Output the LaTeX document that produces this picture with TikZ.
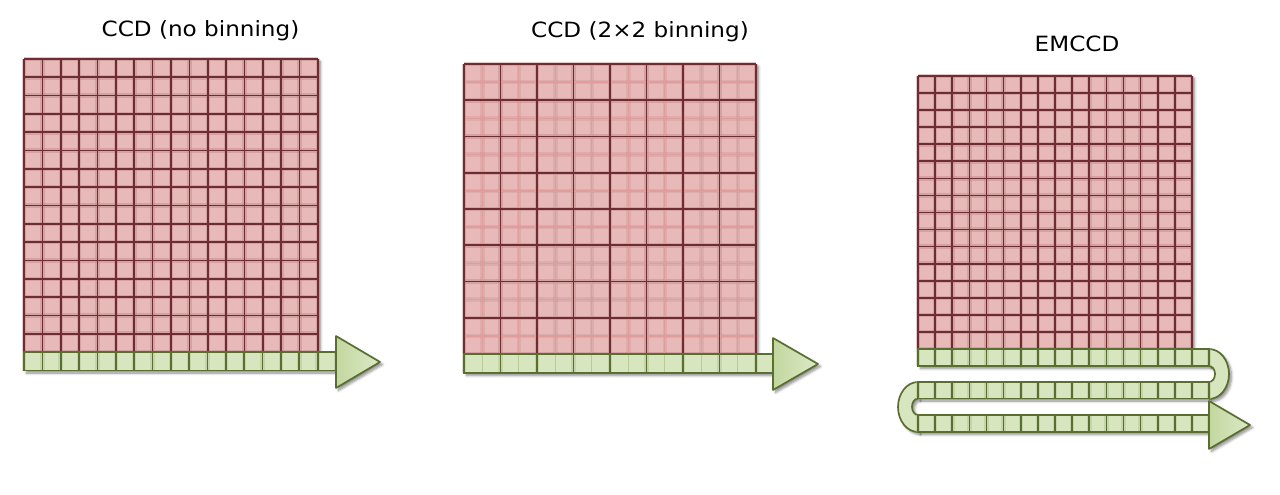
\documentclass[tikz,border=0pt]{standalone}
\usepackage{fontspec}
\setmainfont{DejaVu Sans}
\newfontfamily\titlefont[FakeStretch=1.1]{DejaVu Sans}
\usetikzlibrary{shadows.blur}
\definecolor{pinkfill}{HTML}{E8B9B9}
\definecolor{pinkglow}{HTML}{C08888}
\definecolor{pinkline}{HTML}{6E2D32}
\definecolor{pinkfine}{HTML}{E39C9C}
\definecolor{greenfill}{HTML}{D8E6C0}
\definecolor{greenglow}{HTML}{B2C595}
\definecolor{greenline}{HTML}{5A6E32}
\definecolor{greenfine}{HTML}{B9CC98}
\definecolor{arrowA}{HTML}{C2D79E}
\definecolor{arrowB}{HTML}{DCE9C8}
\tikzset{
  shad/.style={blur shadow={shadow xshift=2.5pt,shadow yshift=-2.5pt,shadow blur steps=6,shadow blur radius=2.5pt,shadow opacity=45}},
  pglow/.style={pinkglow,line width=4.5pt,opacity=0.45},
  pline/.style={pinkline,line width=1.7pt},
  pfine/.style={pinkfine,line width=1.3pt},
  gglow/.style={greenglow,line width=4.5pt,opacity=0.5},
  gline/.style={greenline,line width=1.7pt},
  gfine/.style={greenfine,line width=1.3pt},
  arrowhead/.style={left color=arrowA,right color=arrowB},
  title/.style={font=\titlefont\fontsize{21}{24}\selectfont,inner sep=0pt,anchor=base}
}
\begin{document}
\begin{tikzpicture}[x=1pt,y=-1pt]
\useasboundingbox (0,0) rectangle (1280,495);
% ---------- titles
\node[title] (t1) at (200.5,36.7) {CCD (no binning)};
\node[title] (t2) at (640,37.5) {CCD (2×2 binning)};
\node[title] (t3) at (1077,51.7) {EMCCD};
% ---------- shadows
\path[shad] (24,59) rectangle (318,352);
\path[shad] (24,352) rectangle (336,370.5);
\path[shad] (336,336) -- (380,362) -- (336,388) -- cycle;
\path[shad] (464,64) rectangle (756,354);
\path[shad] (464,354) rectangle (773,373);
\path[shad] (773,338) -- (818,364) -- (773,390) -- cycle;
\path[shad] (918,76) rectangle (1192,349);
\path[shad] (918,349) rectangle (1209,366);
\path[shad] (918,382) rectangle (1209,398.5);
\path[shad] (918,415) rectangle (1209,432);
\path[shad] (1209,349) .. controls (1220,349) and (1229,360.2) .. (1229,374) .. controls (1229,387.8) and (1220,399) .. (1209,399) -- (1209,382) .. controls (1212.3,382) and (1215,378.4) .. (1215,374) .. controls (1215,369.6) and (1212.3,366) .. (1209,366) -- cycle;
\path[shad] (918,382) .. controls (907,382) and (898,393.2) .. (898,407) .. controls (898,420.8) and (907,432) .. (918,432) -- (918,415) .. controls (914.7,415) and (912,411.3) .. (912,406.75) .. controls (912,402.2) and (914.7,398.5) .. (918,398.5) -- cycle;
\path[shad] (1209,401) -- (1250,425) -- (1209,449) -- cycle;
% ========== left CCD
\fill[pinkfill] (24,59) rectangle (318,352);
\foreach \i in {0,...,16}{
  \pgfmathsetmacro{\xx}{24+\i*18.375}
  \pgfmathsetmacro{\yy}{59+\i*18.3125}
  \draw[pglow] (\xx,59) -- (\xx,352);
  \draw[pglow] (24,\yy) -- (318,\yy);
}
\foreach \i in {0,...,16}{
  \pgfmathsetmacro{\xx}{24+\i*18.375}
  \pgfmathsetmacro{\yy}{59+\i*18.3125}
  \draw[pline] (\xx,59) -- (\xx,352);
  \draw[pline] (24,\yy) -- (318,\yy);
}
\fill[greenfill] (24,352) rectangle (336,370.5);
\foreach \i in {0,...,17}{
  \pgfmathsetmacro{\xx}{24+\i*18.353}
  \draw[gglow] (\xx,352) -- (\xx,370.5);
}
\draw[gline] (24,352) rectangle (336,370.5);
\foreach \i in {1,...,16}{
  \pgfmathsetmacro{\xx}{24+\i*18.353}
  \draw[gline] (\xx,352) -- (\xx,370.5);
}
\shade[arrowhead] (336,336) -- (380,362) -- (336,388) -- cycle;
\draw[gline,line join=round] (336,336) -- (380,362) -- (336,388) -- cycle;
% ========== middle CCD 2x2
\fill[pinkfill] (464,64) rectangle (756,354);
\foreach \i in {0,...,7}{
  \pgfmathsetmacro{\xx}{464+18.25+\i*36.5}
  \pgfmathsetmacro{\yy}{64+18.125+\i*36.25}
  \draw[pglow,opacity=0.25] (\xx,64) -- (\xx,354);
  \draw[pglow,opacity=0.25] (464,\yy) -- (756,\yy);
}
\foreach \i in {0,...,8}{
  \pgfmathsetmacro{\xx}{464+\i*36.5}
  \pgfmathsetmacro{\yy}{64+\i*36.25}
  \draw[pglow] (\xx,64) -- (\xx,354);
  \draw[pglow] (464,\yy) -- (756,\yy);
}
\foreach \i in {0,...,7}{
  \pgfmathsetmacro{\xx}{464+18.25+\i*36.5}
  \pgfmathsetmacro{\yy}{64+18.125+\i*36.25}
  \draw[pfine] (\xx,64) -- (\xx,354);
  \draw[pfine] (464,\yy) -- (756,\yy);
}
\foreach \i in {0,...,8}{
  \pgfmathsetmacro{\xx}{464+\i*36.5}
  \pgfmathsetmacro{\yy}{64+\i*36.25}
  \draw[pline] (\xx,64) -- (\xx,354);
  \draw[pline] (464,\yy) -- (756,\yy);
}
\fill[greenfill] (464,354) rectangle (773,373);
\foreach \i in {0,...,8}{
  \pgfmathsetmacro{\xx}{464+\i*36.5}
  \draw[gglow] (\xx,354) -- (\xx,373);
}
\foreach \i in {0,...,7}{
  \pgfmathsetmacro{\xx}{464+18.25+\i*36.5}
  \draw[gfine] (\xx,354) -- (\xx,373);
}
\draw[gline] (464,354) rectangle (773,373);
\foreach \i in {1,...,8}{
  \pgfmathsetmacro{\xx}{464+\i*36.5}
  \draw[gline] (\xx,354) -- (\xx,373);
}
\shade[arrowhead] (773,338) -- (818,364) -- (773,390) -- cycle;
\draw[gline,line join=round] (773,338) -- (818,364) -- (773,390) -- cycle;
% ========== EMCCD
\fill[pinkfill] (918,76) rectangle (1192,349);
\foreach \i in {0,...,16}{
  \pgfmathsetmacro{\xx}{918+\i*17.125}
  \pgfmathsetmacro{\yy}{76+\i*17.0625}
  \draw[pglow] (\xx,76) -- (\xx,349);
  \draw[pglow] (918,\yy) -- (1192,\yy);
}
\foreach \i in {0,...,16}{
  \pgfmathsetmacro{\xx}{918+\i*17.125}
  \pgfmathsetmacro{\yy}{76+\i*17.0625}
  \draw[pline] (\xx,76) -- (\xx,349);
  \draw[pline] (918,\yy) -- (1192,\yy);
}
% U-turns
\fill[greenfill] (1209,349) .. controls (1220,349) and (1229,360.2) .. (1229,374) .. controls (1229,387.8) and (1220,399) .. (1209,399) -- (1209,382) .. controls (1212.3,382) and (1215,378.4) .. (1215,374) .. controls (1215,369.6) and (1212.3,366) .. (1209,366) -- cycle;
\draw[gline] (1209,349) .. controls (1220,349) and (1229,360.2) .. (1229,374) .. controls (1229,387.8) and (1220,399) .. (1209,399) (1209,382) .. controls (1212.3,382) and (1215,378.4) .. (1215,374) .. controls (1215,369.6) and (1212.3,366) .. (1209,366);
\fill[greenfill] (918,382) .. controls (907,382) and (898,393.2) .. (898,407) .. controls (898,420.8) and (907,432) .. (918,432) -- (918,415) .. controls (914.7,415) and (912,411.3) .. (912,406.75) .. controls (912,402.2) and (914.7,398.5) .. (918,398.5) -- cycle;
\draw[gline] (918,382) .. controls (907,382) and (898,393.2) .. (898,407) .. controls (898,420.8) and (907,432) .. (918,432) (918,415) .. controls (914.7,415) and (912,411.3) .. (912,406.75) .. controls (912,402.2) and (914.7,398.5) .. (918,398.5);
% serial rows
\foreach \ya/\yb in {349/366, 382/398.5, 415/432}{
  \fill[greenfill] (918,\ya) rectangle (1209,\yb);
  \foreach \i in {0,...,17}{
    \pgfmathsetmacro{\xx}{918+\i*17.125}
    \draw[gglow] (\xx,\ya) -- (\xx,\yb);
  }
  \draw[gline] (918,\ya) rectangle (1209.1,\yb);
  \foreach \i in {1,...,16}{
    \pgfmathsetmacro{\xx}{918+\i*17.125}
    \draw[gline] (\xx,\ya) -- (\xx,\yb);
  }
}
\shade[arrowhead] (1209,401) -- (1250,425) -- (1209,449) -- cycle;
\draw[gline,line join=round] (1209,401) -- (1250,425) -- (1209,449) -- cycle;
\end{tikzpicture}
\end{document}
